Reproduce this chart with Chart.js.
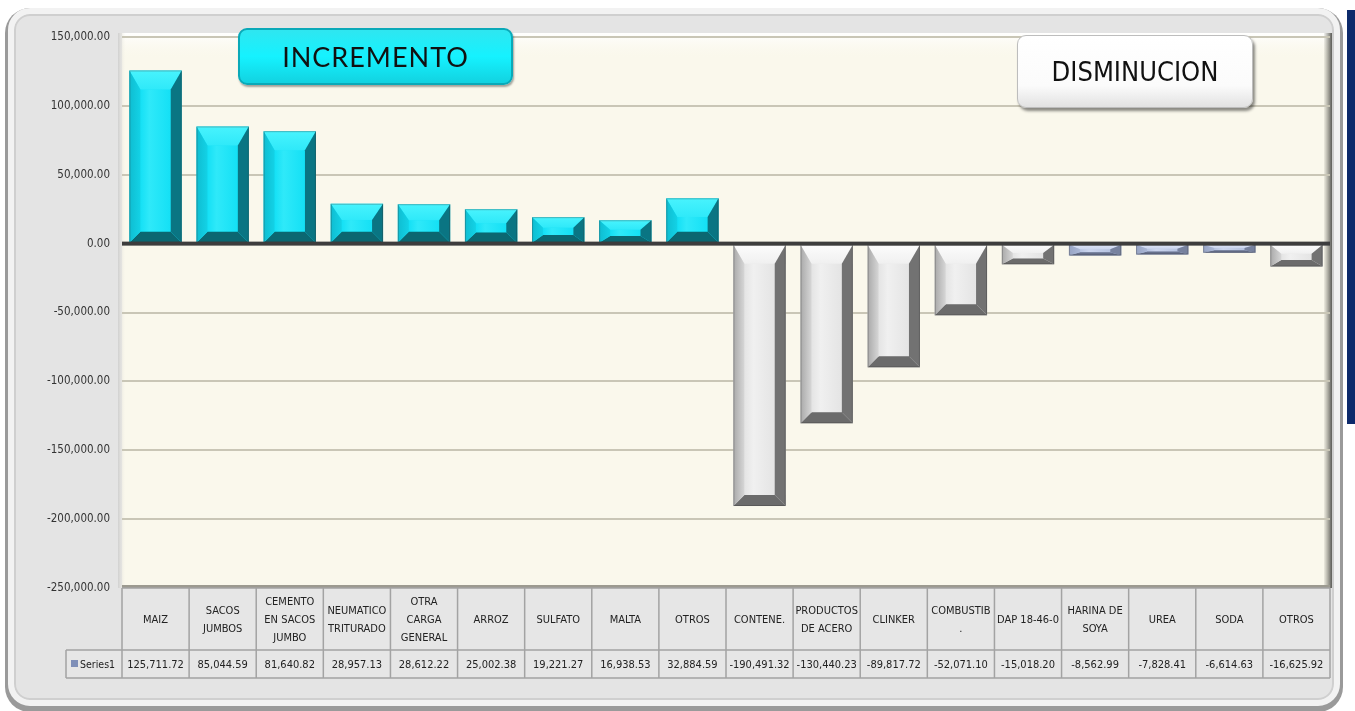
<!DOCTYPE html>
<html>
<head>
<meta charset="utf-8">
<script src="https://cdn.jsdelivr.net/npm/chart.js@4.4.0/dist/chart.umd.min.js"></script>
<style>
  html, body { margin: 0; padding: 0; background: #fff; }
  #wrap { position: relative; width: 1355px; height: 711px; overflow: hidden; }
  #frame {
    position: absolute; left: 8px; top: 8px; width: 1320px; height: 686px;
    border-radius: 22px; background: #e4e4e4;
    border: 6px solid #f2f2f2;
    box-shadow: 0 3px 0 3px #9a9a9a, inset 0 0 0 2px #cfcfcf;
  }
  #navy { position: absolute; left: 1347px; top: 10px; width: 8px; height: 414px; background: #0d2a6b; }
  canvas { position: absolute; left: 0; top: 0; }
  .tag {
    position: absolute; display: flex; align-items: center; justify-content: center;
    color: #111; border-radius: 9px;
  }
  #inc {
    left: 238px; top: 28px; width: 275px; height: 57px;
    background: linear-gradient(#2fe6f0, #15f2ff 50%, #12d2e0);
    border: 2px solid #0aa9b8; box-sizing: border-box;
    font-family: "Lato", sans-serif; font-size: 27px; letter-spacing: 1px;
    box-shadow: 1px 2px 2px rgba(0,0,0,0.35);
  }
  #dis {
    left: 1017px; top: 35px; width: 236px; height: 73px;
    background: linear-gradient(#ffffff, #fbfbfb 70%, #e2e2e2);
    border: 1px solid #bdbdbd; box-sizing: border-box;
    font-family: "DejaVu Sans Condensed", sans-serif; font-size: 27px;
    box-shadow: 2px 3px 3px rgba(0,0,0,0.45);
  }
</style>
</head>
<body>
<div id="wrap">
  <div id="frame"></div>
  <div id="navy"></div>
  <canvas id="chart" width="1355" height="711"></canvas>
  <div class="tag" id="inc">INCREMENTO</div>
  <div class="tag" id="dis">DISMINUCION</div>
</div>
<script>
var categories = [
  ["MAIZ"], ["SACOS", "JUMBOS"], ["CEMENTO", "EN SACOS", "JUMBO"], ["NEUMATICO", "TRITURADO"],
  ["OTRA", "CARGA", "GENERAL"], ["ARROZ"], ["SULFATO"], ["MALTA"], ["OTROS"],
  ["CONTENE."], ["PRODUCTOS", "DE ACERO"], ["CLINKER"], ["COMBUSTIB", "."], ["DAP 18-46-0"],
  ["HARINA DE", "SOYA"], ["UREA"], ["SODA"], ["OTROS"]
];
var series1 = [
  125711.72, 85044.59, 81640.82, 28957.13, 28612.22, 25002.38, 19221.27, 16938.53, 32884.59,
  -190491.32, -130440.23, -89817.72, -52071.10, -15018.20, -8562.99, -7828.41, -6614.63, -16625.92
];
var seriesName = "Series1";
var yMin = -250000, yMax = 150000, yStep = 50000;

var cyan = { face: "#14e0f5", top: "#48f3fd", top2: "#2fe9f9", left: "#0fbdd1", left2: "#13d2e6", right: "#0a7583", bottom: "#0b6771" };
var gray = { face: "#e4e4e4", top: "#fcfcfc", top2: "#f0f0f0", left: "#a9a9a9", left2: "#d6d6d6", right: "#727272", bottom: "#6b6b6b" };
var blue = { face: "#b6c3e1", top: "#dfe6f7", top2: "#cbd5ee", left: "#97a4c4", left2: "#aab7d6", right: "#77829f", bottom: "#66708c" };

function styleFor(i) {
  var v = series1[i];
  if (v >= 0) return cyan;
  if (v > -10000 && v < -5000) return blue;
  return gray;
}

function fmt(v) {
  return v.toLocaleString("en-US", { minimumFractionDigits: 2, maximumFractionDigits: 2 });
}

var FONT = '"DejaVu Sans Condensed", sans-serif';
var TABLE_TOP = 588, ROW1_BOTTOM = 650, ROW2_BOTTOM = 678, SERIES_LEFT = 66;

var backdrop = {
  id: "backdrop",
  beforeDraw: function (chart) {
    var c = chart.ctx, a = chart.chartArea;
    c.save();
    c.fillStyle = "#faf8ec";
    c.fillRect(a.left, a.top - 4, a.right - a.left, a.bottom - a.top + 4);
    var g = c.createLinearGradient(0, a.top - 4, 0, a.top + 22);
    g.addColorStop(0, "#ffffff");
    g.addColorStop(1, "rgba(250,248,236,0)");
    c.fillStyle = g;
    c.fillRect(a.left, a.top - 4, a.right - a.left, 26);
    var gl = c.createLinearGradient(a.left - 4, 0, a.left + 4, 0);
    gl.addColorStop(0, "#cfcfcf");
    gl.addColorStop(1, "rgba(250,248,236,0)");
    c.fillStyle = gl;
    c.fillRect(a.left - 4, a.top - 4, 8, a.bottom - a.top + 4);
    var gr = c.createLinearGradient(a.right - 6, 0, a.right + 2, 0);
    gr.addColorStop(0, "rgba(120,120,110,0.1)");
    gr.addColorStop(1, "#5d5d58");
    c.fillStyle = gr;
    c.fillRect(a.right - 6, a.top - 4, 8, a.bottom - a.top + 4);
    c.restore();
  }
};

var bevels = {
  id: "bevels",
  afterDatasetsDraw: function (chart) {
    var c = chart.ctx;
    var meta = chart.getDatasetMeta(0);
    c.save();
    meta.data.forEach(function (bar, i) {
      var p = bar.getProps(["x", "y", "base", "width"], true);
      var l = p.x - p.width / 2, r = p.x + p.width / 2;
      var t = Math.min(p.y, p.base), b = Math.max(p.y, p.base);
      var h = b - t, w = r - l;
      var sx = Math.min(11, w * 0.21);
      var sT = Math.min(19, h * 0.42);
      var sB = Math.min(11, h * 0.3);
      var st = styleFor(i);
      function poly(pts, col) {
        c.beginPath();
        c.moveTo(pts[0][0], pts[0][1]);
        for (var k = 1; k < pts.length; k++) c.lineTo(pts[k][0], pts[k][1]);
        c.closePath();
        c.fillStyle = col;
        c.fill();
      }
      // face
      var gf = c.createLinearGradient(l + sx, 0, r - sx, 0);
      gf.addColorStop(0, st.face);
      gf.addColorStop(0.3, st.top2);
      gf.addColorStop(1, st.face);
      c.fillStyle = gf;
      c.fillRect(l + sx, t + sT, w - 2 * sx, Math.max(0, h - sT - sB));
      var gt = c.createLinearGradient(0, t, 0, t + sT);
      gt.addColorStop(0, st.top);
      gt.addColorStop(1, st.top2);
      poly([[l, t], [r, t], [r - sx, t + sT], [l + sx, t + sT]], gt);
      poly([[l, b], [r, b], [r - sx, b - sB], [l + sx, b - sB]], st.bottom);
      var gL = c.createLinearGradient(l, 0, l + sx, 0);
      gL.addColorStop(0, st.left);
      gL.addColorStop(1, st.left2);
      poly([[l, t], [l + sx, t + sT], [l + sx, b - sB], [l, b]], gL);
      poly([[r, t], [r - sx, t + sT], [r - sx, b - sB], [r, b]], st.right);
      c.strokeStyle = "rgba(50,50,50,0.3)";
      c.lineWidth = 1;
      c.strokeRect(l + 0.5, t + 0.5, w - 1, h - 1);
    });
    var y0 = chart.scales.y.getPixelForValue(0);
    c.fillStyle = "#3d3d3d";
    c.fillRect(chart.chartArea.left, y0 - 2, chart.chartArea.right - chart.chartArea.left, 4);
    c.restore();
  }
};

var dataTable = {
  id: "dataTable",
  afterDraw: function (chart) {
    var c = chart.ctx, x = chart.scales.x, a = chart.chartArea;
    var colW = (a.right - a.left) / categories.length;
    c.save();
    c.fillStyle = "#9c9a90";
    c.fillRect(a.left, TABLE_TOP - 3, a.right - a.left, 3);
    c.fillStyle = "#e6e6e6";
    c.fillRect(a.left, TABLE_TOP, a.right - a.left, ROW1_BOTTOM - TABLE_TOP);
    c.fillRect(SERIES_LEFT, ROW1_BOTTOM, a.right - SERIES_LEFT, ROW2_BOTTOM - ROW1_BOTTOM);
    c.strokeStyle = "#a3a3a3";
    c.lineWidth = 1.5;
    c.beginPath();
    c.moveTo(a.left, TABLE_TOP); c.lineTo(a.right, TABLE_TOP);
    c.moveTo(SERIES_LEFT, ROW1_BOTTOM); c.lineTo(a.right, ROW1_BOTTOM);
    c.moveTo(SERIES_LEFT, ROW2_BOTTOM); c.lineTo(a.right, ROW2_BOTTOM);
    c.moveTo(SERIES_LEFT, ROW1_BOTTOM); c.lineTo(SERIES_LEFT, ROW2_BOTTOM);
    for (var i = 0; i <= categories.length; i++) {
      var xx = (i < categories.length ? x.getPixelForValue(i) - colW / 2 : x.getPixelForValue(i - 1) + colW / 2);
      c.moveTo(xx, TABLE_TOP); c.lineTo(xx, ROW2_BOTTOM);
    }
    c.stroke();
    c.fillStyle = "#222";
    c.textAlign = "center";
    c.textBaseline = "middle";
    c.font = "11px " + FONT;
    var midY = (TABLE_TOP + ROW1_BOTTOM) / 2 + 1;
    categories.forEach(function (lines, i) {
      var cx = x.getPixelForValue(i);
      var lh = 18;
      lines.forEach(function (ln, k) {
        c.fillText(ln, cx, midY + (k - (lines.length - 1) / 2) * lh);
      });
      c.fillText(fmt(series1[i]), cx, (ROW1_BOTTOM + ROW2_BOTTOM) / 2 + 1);
    });
    c.fillStyle = "#7f8fb8";
    c.fillRect(SERIES_LEFT + 5, 660, 7, 7);
    c.fillStyle = "#222";
    c.textAlign = "left";
    c.font = "10.5px " + FONT;
    c.fillText(seriesName, SERIES_LEFT + 14, (ROW1_BOTTOM + ROW2_BOTTOM) / 2 + 1);
    c.restore();
  }
};

var ctx = document.getElementById("chart").getContext("2d");
var myChart = new Chart(ctx, {
  type: "bar",
  data: {
    labels: categories.map(function (c) { return c.join(" "); }),
    datasets: [{
      label: seriesName,
      data: series1,
      backgroundColor: series1.map(function (v, i) { return styleFor(i).face; }),
      borderWidth: 0,
      barPercentage: 0.78,
      categoryPercentage: 1.0
    }]
  },
  options: {
    responsive: false,
    animation: false,
    layout: { padding: { left: 0, top: 37, right: 25, bottom: 33 } },
    plugins: { legend: { display: false }, tooltip: { enabled: false } },
    scales: {
      x: {
        grid: { display: false },
        border: { display: false },
        ticks: { display: false },
        afterFit: function (s) { s.height = 90; }
      },
      y: {
        min: yMin, max: yMax,
        border: { display: false },
        grid: { color: "#c9c6b6", lineWidth: 2, drawTicks: false },
        ticks: {
          stepSize: yStep, padding: 12, color: "#333",
          font: { family: FONT, size: 11.5 },
          callback: function (v) { return fmt(v); }
        },
        afterFit: function (s) { s.width = 122; }
      }
    }
  },
  plugins: [backdrop, bevels, dataTable]
});
</script>
</body>
</html>
